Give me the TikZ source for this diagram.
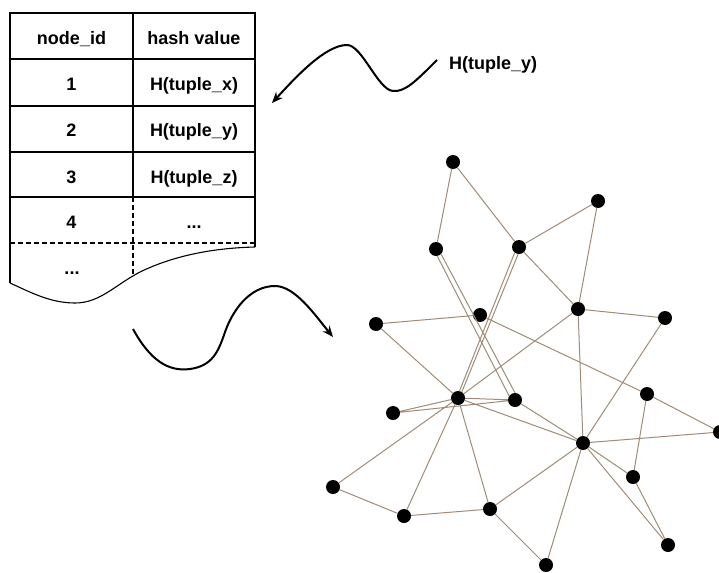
\documentclass[tikz,border=0pt]{standalone}
\usepackage{fontspec}
\setmainfont{Liberation Sans}
\usetikzlibrary{arrows.meta}
\definecolor{edgecol}{RGB}{160,140,118}

\begin{document}
\begin{tikzpicture}[x=1pt,y=-1pt,
  cell/.style={font=\fontsize{18}{21}\selectfont\bfseries, anchor=base, inner sep=0pt},
  vertex/.style={circle, fill=black, minimum size=14pt, inner sep=0pt},
  edge/.style={draw=edgecol, line width=1pt},
  rule/.style={line width=1.1pt},
  headrule/.style={line width=2.2pt},
  cut/.style={line width=1.1pt, dash pattern=on 5pt off 3pt},
  wave/.style={line width=2pt, -{Stealth[length=11pt,width=9pt]}}
]
\useasboundingbox (0,0) rectangle (719,572);

% ---------- hash table ----------
\draw[headrule] (10,13) rectangle (255,59);
\draw[headrule] (133,13) -- (133,59);
\draw[rule] (10,59) -- (10,283);
\draw[rule] (255,59) -- (255,247);
\draw[rule] (10,106) -- (255,106);
\draw[rule] (10,152) -- (255,152);
\draw[rule] (10,197) -- (255,197);
\draw[rule] (133,59) -- (133,197);
\draw[cut] (133,197) -- (133,276);
\draw[cut] (10,243) -- (255,243);
% torn lower edge
\draw[rule] (10,283) .. controls (30,292) and (50,303) .. (75,303)
  .. controls (100,303) and (115,285) .. (140,272)
  .. controls (175,255) and (215,248) .. (255,247);

\node[cell] (hid)   at (71.5,45)  {node\_id};
\node[cell] (hhash) at (194,45)   {hash value};
\node[cell] (r1a)   at (71.5,91)  {1};
\node[cell] (r1b)   at (194,91)   {H(tuple\_x)};
\node[cell] (r2a)   at (71.5,137) {2};
\node[cell] (r2b)   at (194,137)  {H(tuple\_y)};
\node[cell] (r3a)   at (71.5,183) {3};
\node[cell] (r3b)   at (194,183)  {H(tuple\_z)};
\node[cell] (r4a)   at (71.5,228) {4};
\node[cell] (r4b)   at (194,228)  {...};
\node[cell] (r5a)   at (72,274)   {...};

% ---------- incoming hash ----------
\node[cell, anchor=base west] (newhash) at (449,70) {H(tuple\_y)};
\coordinate (w1s) at (437,60);
\coordinate (w1e) at (272,103);
\draw[wave] (w1s) .. controls (415,82) and (405,92) .. (393,91)
  .. controls (378,90) and (362,45) .. (347,45)
  .. controls (325,45) and (295,78) .. (w1e);

% ---------- table to graph ----------
\coordinate (w2s) at (133,329);
\coordinate (w2e) at (333,337);
\draw[wave] (w2s) .. controls (150,360) and (168,372) .. (190,369)
  .. controls (212,366) and (218,352) .. (224,335)
  .. controls (232,310) and (250,286) .. (275,286)
  .. controls (295,286) and (315,315) .. (w2e);

% ---------- graph ----------
\node[vertex] (A) at (453,162) {};
\node[vertex] (B) at (598,201) {};
\node[vertex] (C) at (436,249) {};
\node[vertex] (D) at (519,247) {};
\node[vertex] (E) at (480,315) {};
\node[vertex] (F) at (376,324) {};
\node[vertex] (G) at (578,309) {};
\node[vertex] (H) at (665,318) {};
\node[vertex] (I) at (458,398) {};
\node[vertex] (J) at (393,413) {};
\node[vertex] (K) at (515,400) {};
\node[vertex] (L) at (647,394) {};
\node[vertex] (M) at (720,432) {};
\node[vertex] (N) at (583,443) {};
\node[vertex] (O) at (633,477) {};
\node[vertex] (P) at (333,487) {};
\node[vertex] (Q) at (404,516) {};
\node[vertex] (R) at (490,509) {};
\node[vertex] (S) at (668,545) {};
\node[vertex] (T) at (546,565) {};

\draw[edge] (A) -- (C)  (A) -- (D)  (B) -- (D)  (B) -- (G)  (D) -- (G)
  (D.263) -- (I.58)  (D.233) -- (I.78)
  (C.315) -- (K.90)  (C.280) -- (K.145)
  (F) -- (E)  (F) -- (I)  (E) -- (L)
  (G) -- (I)  (G) -- (H)  (G) -- (N)  (H) -- (N)
  (I) -- (J)  (J) -- (K)  (I) -- (K)  (I) -- (N)
  (I) -- (P)  (I) -- (Q)  (I) -- (R)  (K) -- (N)
  (L) -- (M)  (L) -- (O)  (N) -- (M)  (N) -- (O)  (N) -- (S)  (O) -- (S)
  (N) -- (R)  (N) -- (T)  (R) -- (T)  (P) -- (Q)  (Q) -- (R);
\end{tikzpicture}
\end{document}
